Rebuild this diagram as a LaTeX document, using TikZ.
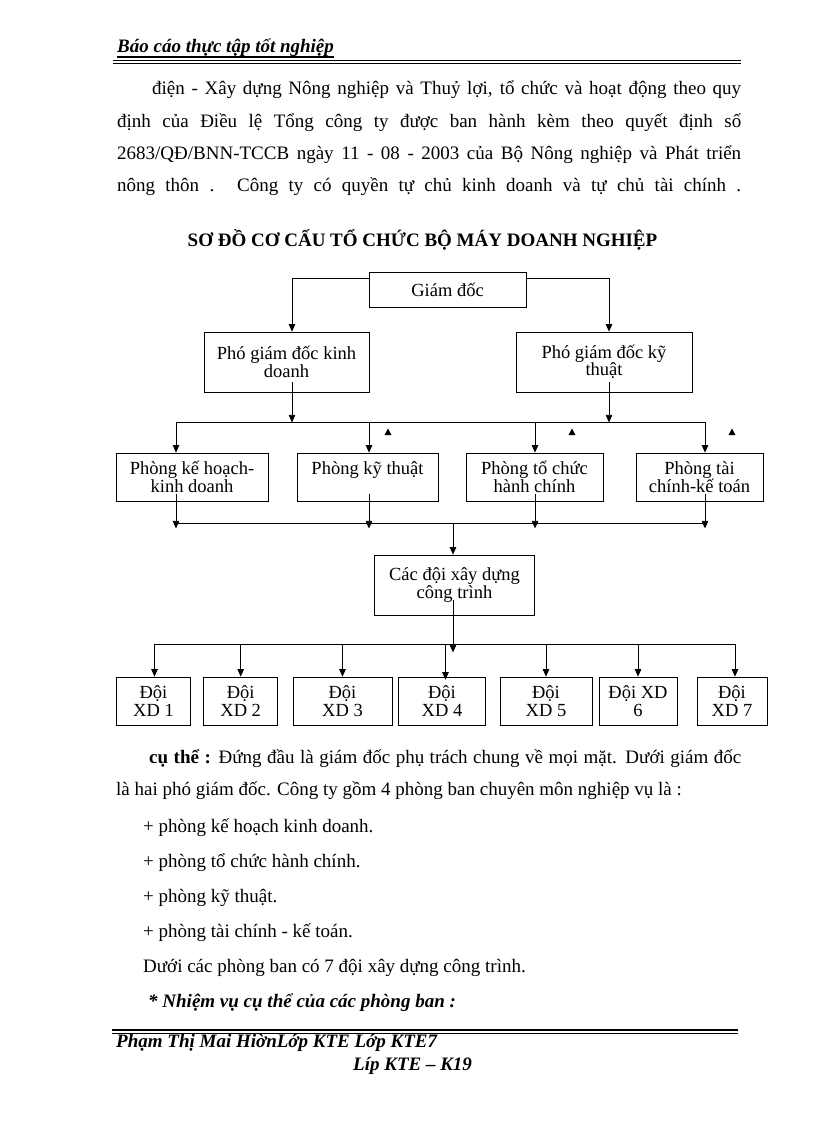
\documentclass[tikz,border=0pt]{standalone}
\usepackage{fontspec}
\setmainfont{Liberation Serif}
\usetikzlibrary{arrows.meta}
\newcommand\boxfont{\fontsize{18.5}{17.5}\selectfont}
\newcommand\bodyfont{\fontsize{19}{19}\selectfont}
\begin{document}
\begin{tikzpicture}[x=1pt,y=-1pt,
  box/.style={draw, line width=0.8pt, inner sep=0pt, align=center, font=\boxfont},
  arr/.style={line width=0.7pt, -{Triangle[width=6.5pt,length=7.5pt]}},
  ln/.style={line width=0.7pt},
  txt/.style={anchor=base west, inner sep=0pt, font=\bodyfont}]
\useasboundingbox (0,0) rectangle (816,1123);
\fill[white] (0,0) rectangle (816,1123);

% header
\node[txt, font=\bodyfont\bfseries\itshape] (hd) at (117,53) {Báo cáo thực tập tốt nghiệp};
\draw[line width=1.3pt] ([yshift=-4pt]hd.base west) -- ([yshift=-4pt]hd.base east);
\draw[line width=0.9pt] (113,60.5) -- (741,60.5);
\draw[line width=0.9pt] (113,63.8) -- (741,63.8);

% paragraph
\node[txt] (p1) at (152,95) {\makebox[589pt][s]{điện - Xây dựng Nông nghiệp và Thuỷ lợi, tổ chức và hoạt động theo quy}};
\node[txt] (p2) at (117,128) {\makebox[624pt][s]{định của Điều lệ Tổng công ty được ban hành kèm theo quyết định số}};
\node[txt] (p3) at (117,160) {\makebox[624pt][s]{2683/QĐ/BNN-TCCB ngày 11 - 08 - 2003 của Bộ Nông nghiệp và Phát triển}};
\node[txt] (p4) at (117,192) {\makebox[624pt][s]{nông thôn . Công ty có quyền tự chủ kinh doanh và tự chủ tài chính .}};

\node[anchor=base, inner sep=0pt, font=\fontsize{19}{20}\selectfont\bfseries] (title) at (422.5,247) {SƠ ĐỒ CƠ CẤU TỔ CHỨC BỘ MÁY DOANH NGHIỆP};

% boxes
\node[box, minimum width=157pt, minimum height=35pt] (gd) at (447.5,289.5) {Giám đốc};
\node[box, minimum width=165pt, minimum height=60pt] (pkd) at (286.5,362) {Phó giám đốc kinh\\doanh};
\node[box, minimum width=176pt, minimum height=60pt] (pkt) at (604,362) {Phó giám đốc kỹ\\thuật};

\node[box, minimum width=152pt, minimum height=48pt] (r1) at (192,477) {Phòng kế hoạch-\\kinh doanh};
\node[box, minimum width=141pt, minimum height=48pt] (r2) at (367.5,477) {Phòng kỹ thuật\\\mbox{}};
\node[box, minimum width=137pt, minimum height=48pt] (r3) at (534.5,477) {Phòng tổ chức\\hành chính};
\node[box, minimum width=127pt, minimum height=48pt] (r4) at (699.5,477) {Phòng tài\\chính-kế toán};

\node[box, minimum width=160pt, minimum height=60pt] (cd) at (454.5,585) {Các đội xây dựng\\công trình};

\node[box, minimum width=74pt, minimum height=48pt] (d1) at (153.5,701) {Đội\\XD 1};
\node[box, minimum width=74pt, minimum height=48pt] (d2) at (240.7,701) {Đội\\XD 2};
\node[box, minimum width=99pt, minimum height=48pt] (d3) at (342.5,701) {Đội\\XD 3};
\node[box, minimum width=87pt, minimum height=48pt] (d4) at (442,701) {Đội\\XD 4};
\node[box, minimum width=92pt, minimum height=48pt] (d5) at (546,701) {Đội\\XD 5};
\node[box, minimum width=78pt, minimum height=48pt] (d6) at (638,701) {Đội XD\\6};
\node[box, minimum width=70pt, minimum height=48pt] (d7) at (732,701) {Đội\\XD 7};

% connectors level 1
\draw[arr] ([yshift=-7pt]gd.north west) -| ([xshift=5.5pt]pkd.north);
\draw[arr] ([yshift=-7pt]gd.north east) -| ([xshift=5pt]pkt.north);

% bus 1
\coordinate (b1L) at (176,422);
\coordinate (b1R) at (705,422);
\draw[ln] (b1L) -- (b1R);
\draw[arr] ([xshift=5.5pt,yshift=10pt]pkd.south) -- ++(0,40);
\draw[arr] ([xshift=5pt,yshift=10pt]pkt.south) -- ++(0,40);
\draw[arr] ([xshift=-16pt,yshift=31pt]r1.north) -- ([xshift=-16pt]r1.north);
\draw[arr] ([xshift=1.5pt,yshift=31pt]r2.north) -- ([xshift=1.5pt]r2.north);
\draw[arr] ([xshift=0.5pt,yshift=31pt]r3.north) -- ([xshift=0.5pt]r3.north);
\draw[arr] ([xshift=5.5pt,yshift=31pt]r4.north) -- ([xshift=5.5pt]r4.north);

% stray small triangles
\fill (388,428.5) -- (384.5,435) -- (391.5,435) -- cycle;
\fill (572,428.5) -- (568.5,435) -- (575.5,435) -- cycle;
\fill (732,428.5) -- (728.5,435) -- (735.5,435) -- cycle;

% bus 2
\coordinate (b2L) at (176,523);
\coordinate (b2R) at (705,523);
\coordinate (b2C) at (453,523);
\draw[ln] (b2L) -- (b2R);
\draw[arr] ([xshift=-16pt,yshift=7pt]r1.south) -- ([xshift=-16pt,yshift=-27pt]r1.south);
\draw[arr] ([xshift=1.5pt,yshift=7pt]r2.south) -- ([xshift=1.5pt,yshift=-27pt]r2.south);
\draw[arr] ([xshift=0.5pt,yshift=7pt]r3.south) -- ([xshift=0.5pt,yshift=-27pt]r3.south);
\draw[arr] ([xshift=5.5pt,yshift=7pt]r4.south) -- ([xshift=5.5pt,yshift=-27pt]r4.south);
\draw[arr] (b2C) -- ([xshift=-1.5pt]cd.north);

% bus 3
\coordinate (b3L) at (154.5,644);
\coordinate (b3R) at (735,644);
\draw[ln] (b3L) -- (b3R);
\draw[arr] ([xshift=-1.5pt,yshift=15pt]cd.south) -- ([xshift=-1.5pt,yshift=-37pt]cd.south);
\draw[arr] ([xshift=1pt,yshift=33pt]d1.north) -- ([xshift=1pt]d1.north);
\draw[arr] ([yshift=33pt]d2.north) -- (d2.north);
\draw[arr] ([yshift=33pt]d3.north) -- (d3.north);
\draw[arr] ([xshift=3.5pt,yshift=33pt]d4.north) -- ([xshift=3.5pt,yshift=-3pt]d4.north);
\draw[arr] ([yshift=33pt]d5.north) -- (d5.north);
\draw[arr] ([yshift=33pt]d6.north) -- (d6.north);
\draw[arr] ([xshift=3pt,yshift=33pt]d7.north) -- ([xshift=3pt]d7.north);

% lower text
\node[txt] (q1) at (149,763) {\makebox[592pt][s]{\textbf{cụ thể :} Đứng đầu là giám đốc phụ trách chung về mọi mặt. Dưới giám đốc}};
\node[txt] (q2) at (116,795) {là hai phó giám đốc. Công ty gồm 4 phòng ban chuyên môn nghiệp vụ là :};
\node[txt] (q3) at (143,832) {+ phòng kế hoạch kinh doanh.};
\node[txt] (q4) at (143,867) {+ phòng tổ chức hành chính.};
\node[txt] (q5) at (143,902) {+ phòng kỹ thuật.};
\node[txt] (q6) at (143,937) {+ phòng tài chính - kế toán.};
\node[txt] (q7) at (143,972) {Dưới các phòng ban có 7 đội xây dựng công trình.};
\node[txt, font=\bodyfont\bfseries\itshape] (q8) at (148,1007) {* Nhiệm vụ cụ thể của các phòng ban :};

% footer
\draw[line width=1.3pt] (112,1030) -- (738,1030);
\draw[line width=0.9pt] (112,1033.8) -- (738,1033.8);
\node[txt, font=\bodyfont\bfseries\itshape] (f1) at (116,1047) {Phạm Thị Mai HiờnLớp KTE Lớp KTE7};
\node[txt, font=\bodyfont\bfseries\itshape] (f2) at (353,1070) {Líp KTE – K19};
\end{tikzpicture}
\end{document}
